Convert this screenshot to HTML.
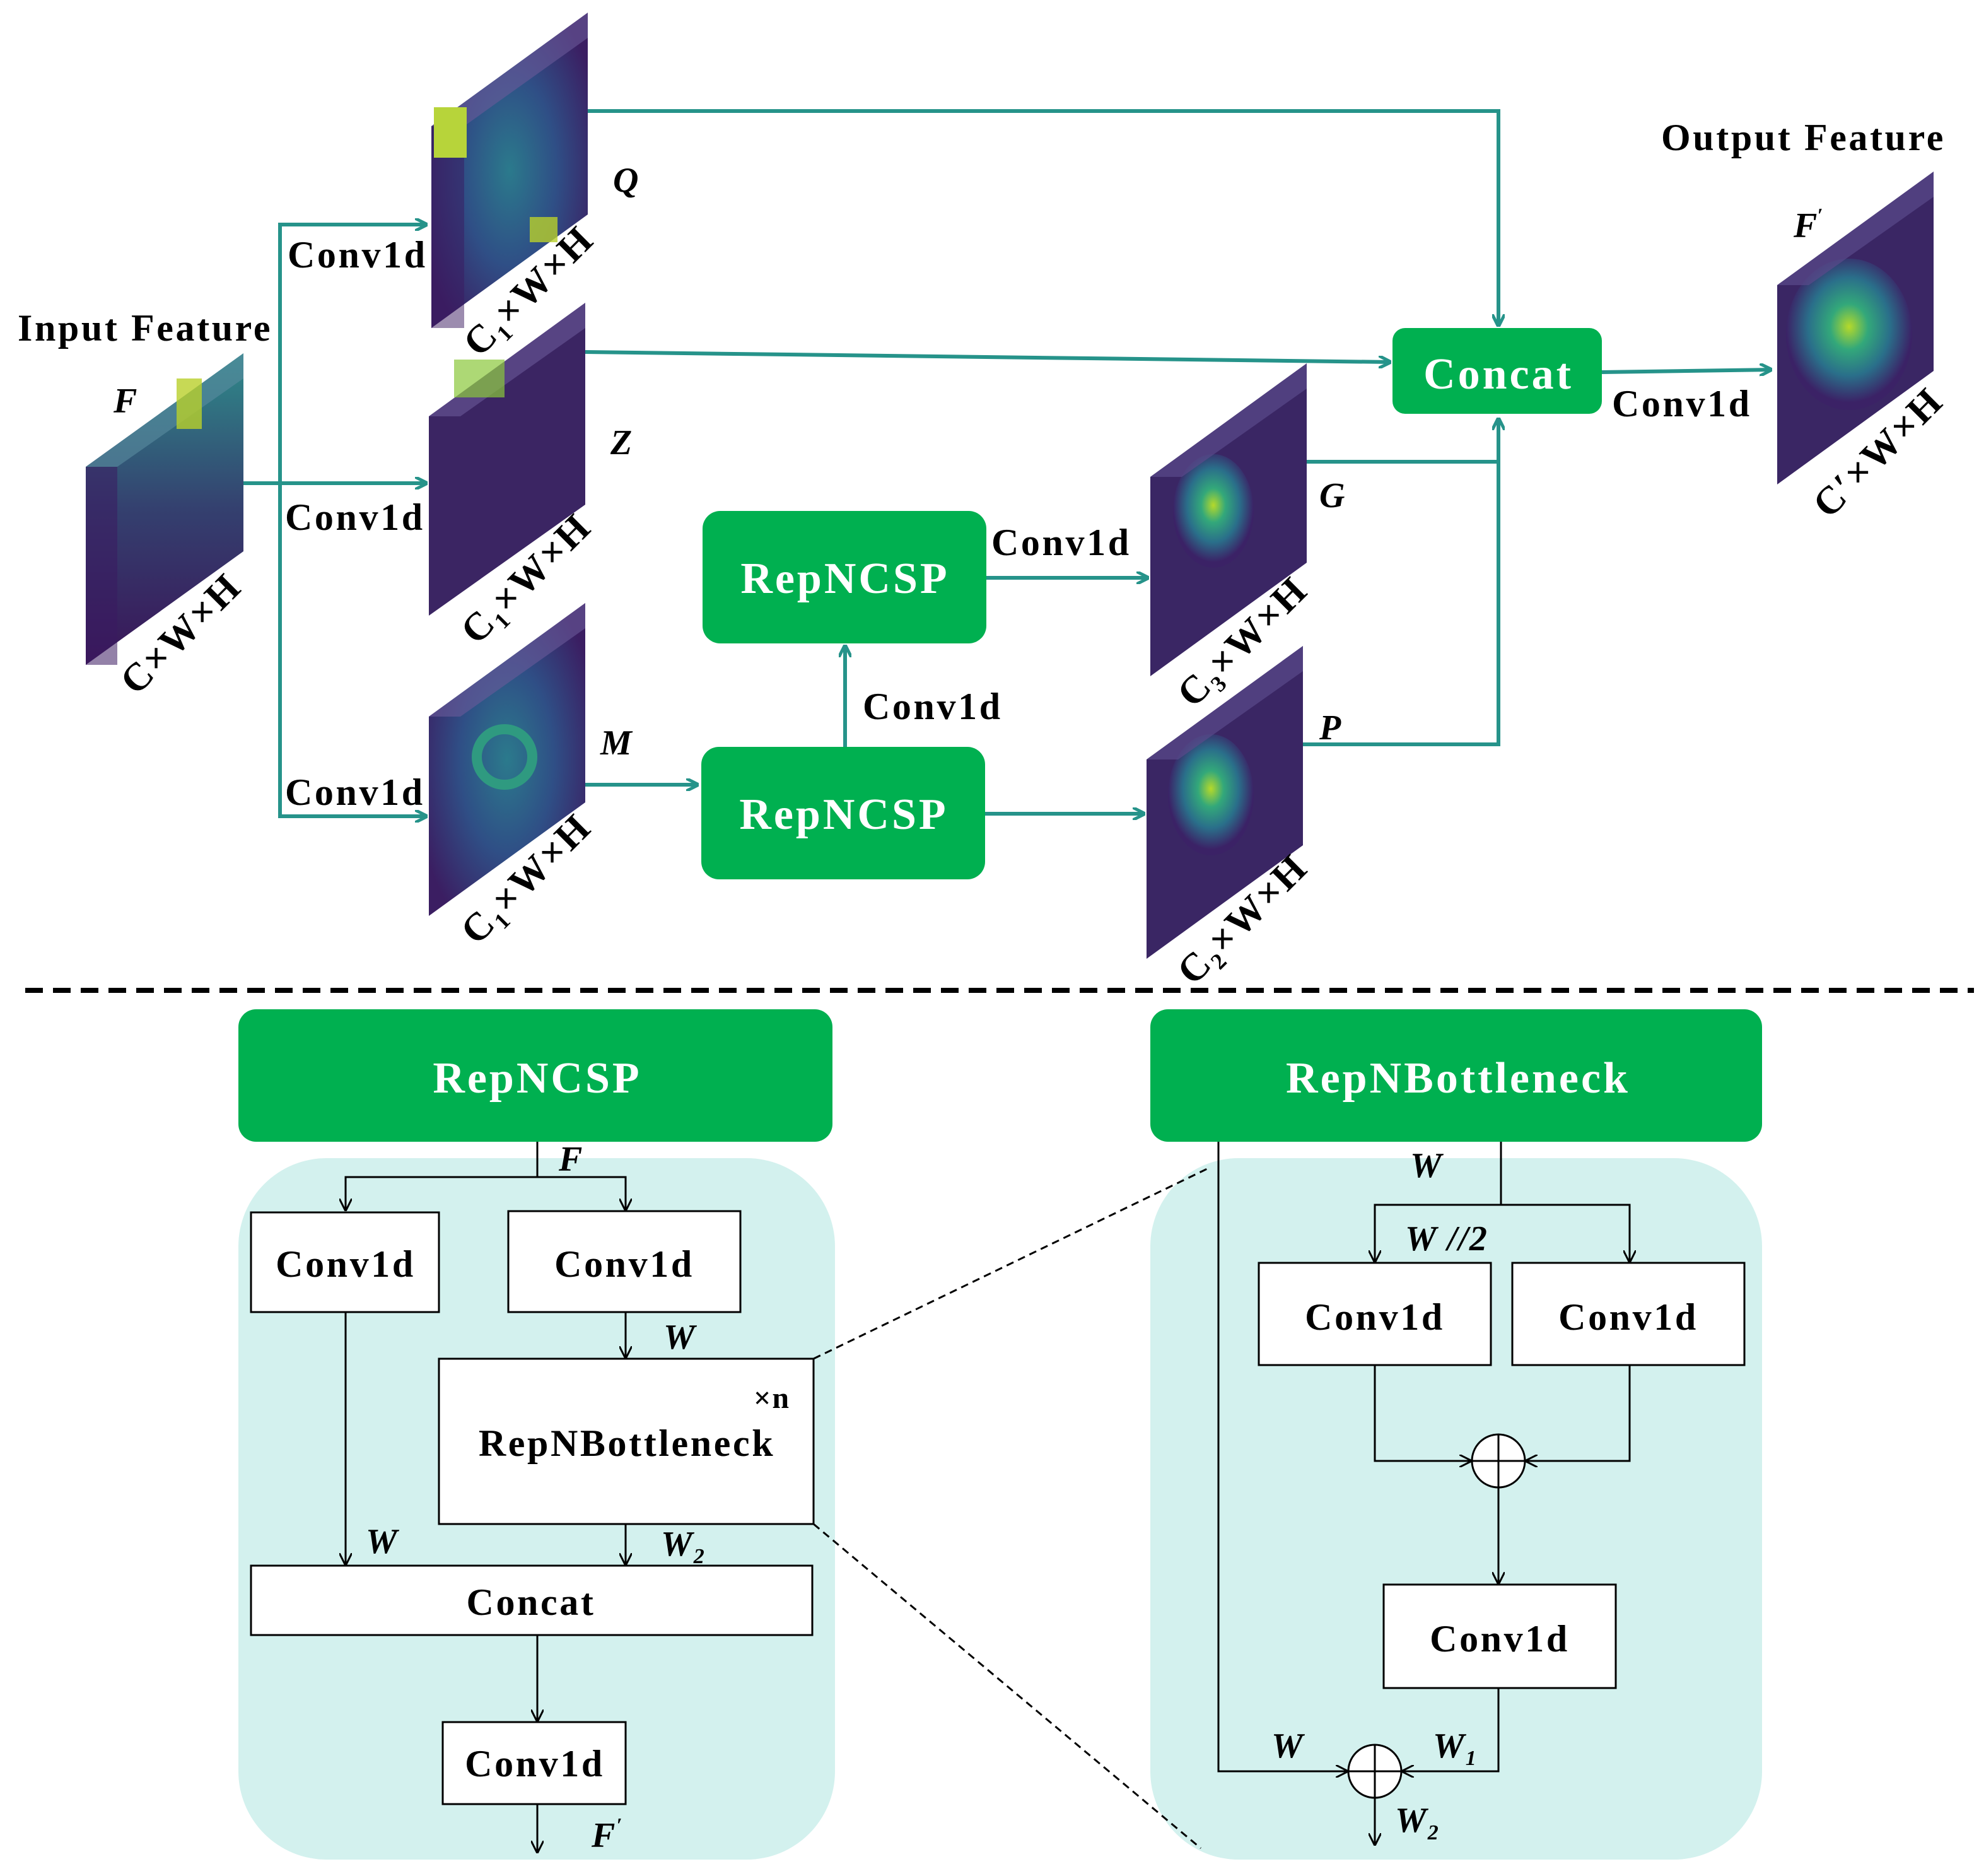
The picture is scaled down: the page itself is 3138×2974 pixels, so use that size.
<!DOCTYPE html>
<html><head><meta charset="utf-8"><style>html,body{margin:0;padding:0;background:#fff}svg{display:block}</style></head>
<body>
<svg xmlns="http://www.w3.org/2000/svg" width="3138" height="2974" viewBox="0 0 1569 1487">
<defs>
<marker id="ta" markerWidth="10" markerHeight="10" refX="9" refY="5" orient="auto" markerUnits="userSpaceOnUse"><path d="M0,0 L10,5 L0,10" fill="none" stroke="#26938a" stroke-width="2.5"/></marker>
<marker id="ka" markerWidth="10" markerHeight="10" refX="9" refY="5" orient="auto" markerUnits="userSpaceOnUse"><path d="M0,0 L10,5 L0,10" fill="none" stroke="#000" stroke-width="1.5"/></marker>
<radialGradient id="g1" cx="0.5" cy="0.45" r="0.5"><stop offset="0" stop-color="#b5d92a"/><stop offset="0.3" stop-color="#33a87a"/><stop offset="0.65" stop-color="#2a6f8a"/><stop offset="1" stop-color="#3b2266"/></radialGradient>
<radialGradient id="g2" cx="0.5" cy="0.5" r="0.6"><stop offset="0" stop-color="#2b7a8c"/><stop offset="0.5" stop-color="#2f4f86"/><stop offset="1" stop-color="#3b1e62"/></radialGradient>
<linearGradient id="g3" x1="0" y1="0" x2="0" y2="1"><stop offset="0" stop-color="#2f8b8a"/><stop offset="0.5" stop-color="#34406f"/><stop offset="1" stop-color="#3a1558"/></linearGradient>
</defs>
<g font-family="Liberation Serif, serif" font-weight="bold">
<g id="maps">
<polygon points="68,370 193,280 193,437 68,527" fill="url(#g3)"/>
<polygon points="68,370 93,370 93,527 68,527" fill="#3a1a60" opacity="0.55"/>
<polygon points="68,370 193,280 193,300 93,370" fill="#5a8ca0" opacity="0.6"/>
<rect x="140" y="300" width="20" height="40" fill="#b9cf2b" opacity="0.8"/>
<polygon points="342,100 466,10 466,170 342,260" fill="url(#g2)"/>
<polygon points="342,100 368,100 368,260 342,260" fill="#3a1a60" opacity="0.5"/>
<polygon points="342,100 466,10 466,30 368,100" fill="#6a5a9a" opacity="0.6"/>
<rect x="344" y="85" width="26" height="40" fill="#b7d43a"/>
<rect x="420" y="172" width="22" height="20" fill="#b9cf2b" opacity="0.8"/>
<polygon points="340,330 464,240 464,400 340,488" fill="#3b2563"/>
<polygon points="340,330 464,240 464,260 365,330" fill="#6a5a9a" opacity="0.6"/>
<rect x="360" y="285" width="40" height="30" fill="#8ac83a" opacity="0.7"/>
<polygon points="340,568 464,478 464,636 340,726" fill="url(#g2)"/>
<polygon points="340,568 464,478 464,498 365,568" fill="#6a5a9a" opacity="0.6"/>
<circle cx="400" cy="600" r="22" fill="none" stroke="#2f9a80" stroke-width="8"/>
<polygon points="912,378 1036,288 1036,446 912,536" fill="#3a2664"/>
<ellipse cx="962" cy="405" rx="32" ry="45" fill="url(#g1)"/>
<polygon points="912,378 1036,288 1036,308 937,378" fill="#5a4a8a" opacity="0.7"/>
<polygon points="909,602 1033,512 1033,670 909,760" fill="#3a2664"/>
<ellipse cx="960" cy="630" rx="34" ry="48" fill="url(#g1)"/>
<polygon points="909,602 1033,512 1033,532 934,602" fill="#5a4a8a" opacity="0.7"/>
<polygon points="1409,226 1533,136 1533,294 1409,384" fill="#3a2664"/>
<ellipse cx="1466" cy="265" rx="50" ry="60" fill="url(#g1)"/>
<polygon points="1409,226 1533,136 1533,156 1434,226" fill="#5a4a8a" opacity="0.7"/>
</g>
<g stroke="#26938a" stroke-width="3" fill="none">
<line x1="193" y1="383" x2="338" y2="383" marker-end="url(#ta)"/>
<polyline points="338,178 222,178 222,647 338,647" />
<line x1="300" y1="178" x2="338" y2="178" marker-end="url(#ta)"/>
<line x1="300" y1="647" x2="338" y2="647" marker-end="url(#ta)"/>
<polyline points="466,88 1188,88 1188,258" marker-end="url(#ta)"/>
<line x1="464" y1="279" x2="1102" y2="287" marker-end="url(#ta)"/>
<line x1="464" y1="622" x2="553" y2="622" marker-end="url(#ta)"/>
<line x1="670" y1="592" x2="670" y2="512" marker-end="url(#ta)"/>
<line x1="782" y1="458" x2="910" y2="458" marker-end="url(#ta)"/>
<line x1="781" y1="645" x2="907" y2="645" marker-end="url(#ta)"/>
<polyline points="1036,366 1188,366"/>
<polyline points="1033,590 1188,590 1188,332" marker-end="url(#ta)"/>
<line x1="1270" y1="295" x2="1404" y2="293" marker-end="url(#ta)"/>
</g>
<g fill="#00b050">
<rect x="557" y="405" width="225" height="105" rx="14"/>
<rect x="556" y="592" width="225" height="105" rx="14"/>
<rect x="1104" y="260" width="166" height="68" rx="10"/>
<rect x="189" y="800" width="471" height="105" rx="14"/>
<rect x="912" y="800" width="485" height="105" rx="14"/>
</g>
<g fill="#fff" font-size="35" letter-spacing="2" text-anchor="middle">
<text x="670" y="470">RepNCSP</text>
<text x="669" y="657">RepNCSP</text>
<text x="1188" y="308">Concat</text>
<text x="426" y="866">RepNCSP</text>
<text x="1156" y="866">RepNBottleneck</text>
</g>
<g font-size="30" letter-spacing="1.8" fill="#000">
<text x="14" y="270">Input Feature</text>
<text x="1317" y="119">Output Feature</text>
<text x="228" y="212">Conv1d</text>
<text x="226" y="420">Conv1d</text>
<text x="226" y="638">Conv1d</text>
<text x="786" y="440">Conv1d</text>
<text x="684" y="570">Conv1d</text>
<text x="1278" y="330">Conv1d</text>
</g>
<g font-size="28" font-style="italic">
<text x="90" y="327">F</text>
<text x="486" y="152">Q</text>
<text x="484" y="360">Z</text>
<text x="476" y="598">M</text>
<text x="1046" y="402">G</text>
<text x="1046" y="586">P</text>
<text x="1422" y="188">F<tspan font-size="16" dy="-12">′</tspan></text>
</g>
<g font-size="31" letter-spacing="1.5">
<text transform="translate(108,552) rotate(-45)">C×W×H</text>
<text transform="translate(380,284) rotate(-45)">C<tspan font-size="18" dy="6">1</tspan><tspan dy="-6">×W×H</tspan></text>
<text transform="translate(378,512) rotate(-45)">C<tspan font-size="18" dy="6">1</tspan><tspan dy="-6">×W×H</tspan></text>
<text transform="translate(378,750) rotate(-45)">C<tspan font-size="18" dy="6">1</tspan><tspan dy="-6">×W×H</tspan></text>
<text transform="translate(946,562) rotate(-45)">C<tspan font-size="18" dy="6">3</tspan><tspan dy="-6">×W×H</tspan></text>
<text transform="translate(946,782) rotate(-45)">C<tspan font-size="18" dy="6">2</tspan><tspan dy="-6">×W×H</tspan></text>
<text transform="translate(1450,412) rotate(-45)">C′×W×H</text>
</g>
<line x1="20" y1="785" x2="1565" y2="785" stroke="#000" stroke-width="4" stroke-dasharray="14,8"/>
<rect x="189" y="918" width="473" height="556" rx="70" fill="#d3f1ee"/>
<rect x="912" y="918" width="485" height="556" rx="70" fill="#d3f1ee"/>
<line x1="645" y1="1077" x2="958" y2="926" stroke="#000" stroke-width="1.5" stroke-dasharray="6,4"/>
<line x1="645" y1="1208" x2="952" y2="1465" stroke="#000" stroke-width="1.5" stroke-dasharray="6,4"/>
<g fill="#fff" stroke="#000" stroke-width="1.5">
<rect x="199" y="961" width="149" height="79"/>
<rect x="403" y="960" width="184" height="80"/>
<rect x="348" y="1077" width="297" height="131"/>
<rect x="199" y="1241" width="445" height="55"/>
<rect x="351" y="1365" width="145" height="65"/>
<rect x="998" y="1001" width="184" height="81"/>
<rect x="1199" y="1001" width="184" height="81"/>
<rect x="1097" y="1256" width="184" height="82"/>
<circle cx="1188" cy="1158" r="21"/>
<circle cx="1090" cy="1404" r="21"/>
</g>
<g stroke="#000" stroke-width="1.5">
<line x1="1167" y1="1158" x2="1209" y2="1158"/><line x1="1188" y1="1137" x2="1188" y2="1179"/>
<line x1="1069" y1="1404" x2="1111" y2="1404"/><line x1="1090" y1="1383" x2="1090" y2="1425"/>
</g>
<g stroke="#000" stroke-width="1.5" fill="none">
<polyline points="426,905 426,933"/>
<polyline points="274,959 274,933 496,933 496,959" />
<line x1="274" y1="945" x2="274" y2="959" marker-end="url(#ka)"/>
<line x1="496" y1="945" x2="496" y2="959" marker-end="url(#ka)"/>
<line x1="496" y1="1040" x2="496" y2="1076" marker-end="url(#ka)"/>
<line x1="274" y1="1040" x2="274" y2="1240" marker-end="url(#ka)"/>
<line x1="496" y1="1208" x2="496" y2="1240" marker-end="url(#ka)"/>
<line x1="426" y1="1296" x2="426" y2="1364" marker-end="url(#ka)"/>
<line x1="426" y1="1430" x2="426" y2="1468" marker-end="url(#ka)"/>
<polyline points="966,905 966,1404 1068,1404" marker-end="url(#ka)"/>
<polyline points="1190,905 1190,955"/>
<polyline points="1090,999 1090,955 1292,955 1292,999"/>
<line x1="1090" y1="985" x2="1090" y2="1000" marker-end="url(#ka)"/>
<line x1="1292" y1="985" x2="1292" y2="1000" marker-end="url(#ka)"/>
<polyline points="1090,1082 1090,1158 1166,1158" marker-end="url(#ka)"/>
<polyline points="1292,1082 1292,1158 1210,1158" marker-end="url(#ka)"/>
<line x1="1188" y1="1179" x2="1188" y2="1255" marker-end="url(#ka)"/>
<polyline points="1188,1338 1188,1404 1112,1404" marker-end="url(#ka)"/>
<line x1="1090" y1="1425" x2="1090" y2="1462" marker-end="url(#ka)"/>
</g>
<g font-size="30" letter-spacing="1.8" text-anchor="middle">
<text x="274" y="1012">Conv1d</text>
<text x="495" y="1012">Conv1d</text>
<text x="497" y="1154">RepNBottleneck</text>
<text x="421" y="1280">Concat</text>
<text x="424" y="1408">Conv1d</text>
<text x="1090" y="1054">Conv1d</text>
<text x="1291" y="1054">Conv1d</text>
<text x="1189" y="1309">Conv1d</text>
<text x="612" y="1116" font-size="24" letter-spacing="1">×n</text>
</g>
<g font-size="28" font-style="italic" letter-spacing="1">
<text x="443" y="928">F</text>
<text x="526" y="1069">W</text>
<text x="290" y="1231">W</text>
<text x="524" y="1233">W<tspan font-size="17" dy="6">2</tspan></text>
<text x="469" y="1464">F<tspan font-size="16" dy="-12">′</tspan></text>
<text x="1118" y="933">W</text>
<text x="1114" y="991">W //2</text>
<text x="1008" y="1393">W</text>
<text x="1136" y="1393">W<tspan font-size="17" dy="6">1</tspan></text>
<text x="1106" y="1452">W<tspan font-size="17" dy="6">2</tspan></text>
</g>
</g>
</svg>
</body></html>
